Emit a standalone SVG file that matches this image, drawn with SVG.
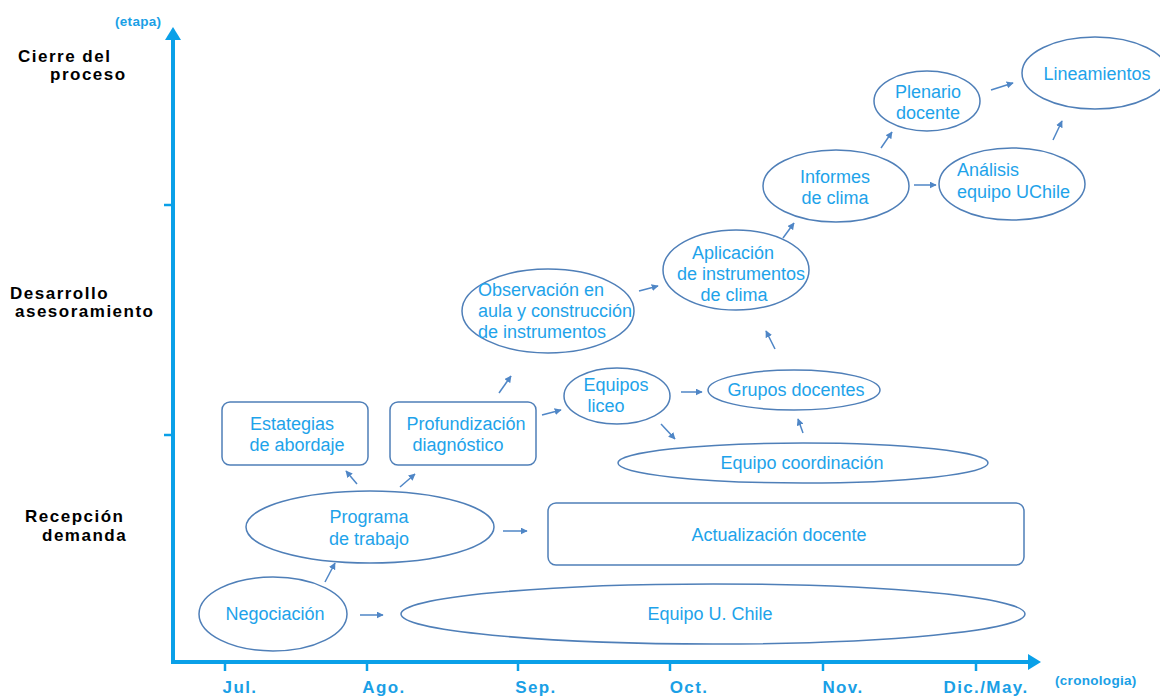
<svg xmlns="http://www.w3.org/2000/svg" width="1160" height="696" viewBox="0 0 1160 696">
<defs>
<style>
.n{fill:#fff;stroke:#4f7fb8;stroke-width:1.5}
.t{font-family:"Liberation Sans",Arial,sans-serif;font-size:18px;fill:#1ea3ea;text-anchor:middle}
.ts{font-family:"Liberation Sans",Arial,sans-serif;font-size:18px;fill:#1ea3ea}
.lab{font-family:"Liberation Sans",Arial,sans-serif;font-size:17px;font-weight:bold;fill:#000;letter-spacing:1.5px}
.mon{font-family:"Liberation Sans",Arial,sans-serif;font-size:17px;font-weight:bold;fill:#1aa0e6;text-anchor:middle;letter-spacing:1.4px}
.ax{font-family:"Liberation Sans",Arial,sans-serif;font-size:13.5px;font-weight:bold;fill:#1aa0e6;letter-spacing:0.3px}
.axis{stroke:#0aa0e8;stroke-width:4;fill:none}
.tick{stroke:#0aa0e8;stroke-width:2.5}
.c{stroke:#4f86c6;stroke-width:1.5;fill:none;marker-end:url(#ah)}
</style>
<marker id="ah" viewBox="0 0 10 10" refX="9" refY="5" markerWidth="7" markerHeight="7" markerUnits="userSpaceOnUse" orient="auto"><path d="M0,0 L10,5 L0,10 z" fill="#4f86c6"/></marker>
</defs>

<g id="axes">
<line class="axis" x1="173" y1="38" x2="173" y2="662"/>
<line class="axis" x1="171" y1="662" x2="1030" y2="662"/>
<path d="M165,40 L173,27 L181,40 z" fill="#0aa0e8"/>
<path d="M1028,654 L1041,662 L1028,670 z" fill="#0aa0e8"/>
<line class="tick" x1="164" y1="205" x2="173" y2="205"/>
<line class="tick" x1="164" y1="435" x2="173" y2="435"/>
<line class="tick" x1="225" y1="662" x2="225" y2="671"/>
<line class="tick" x1="367" y1="662" x2="367" y2="671"/>
<line class="tick" x1="518" y1="662" x2="518" y2="671"/>
<line class="tick" x1="670" y1="662" x2="670" y2="671"/>
<line class="tick" x1="823" y1="662" x2="823" y2="671"/>
<line class="tick" x1="976" y1="662" x2="976" y2="671"/>
<text class="ax" x="115" y="26">(etapa)</text>
<text class="ax" x="1055" y="685">(cronologia)</text>
<text class="mon" x="240" y="693">Jul.</text>
<text class="mon" x="384" y="693">Ago.</text>
<text class="mon" x="536" y="693">Sep.</text>
<text class="mon" x="689" y="693">Oct.</text>
<text class="mon" x="843" y="693">Nov.</text>
<text class="mon" x="986" y="693">Dic./May.</text>
<text class="lab" x="18" y="62">Cierre del</text>
<text class="lab" x="50" y="80">proceso</text>
<text class="lab" x="10" y="299">Desarrollo</text>
<text class="lab" x="15" y="317">asesoramiento</text>
<text class="lab" x="25" y="522">Recepción</text>
<text class="lab" x="42" y="541">demanda</text>
</g>

<g id="negociacion"><ellipse class="n" cx="273" cy="614" rx="74" ry="37"/><text class="t" x="275" y="620">Negociación</text></g>
<g id="equipo-uchile"><ellipse class="n" cx="713" cy="614" rx="312" ry="30"/><text class="t" x="710" y="620">Equipo U. Chile</text></g>
<g id="programa"><ellipse class="n" cx="370" cy="527" rx="124" ry="36"/><text class="t" x="369" y="523">Programa</text><text class="t" x="369" y="545">de trabajo</text></g>
<g id="actualizacion"><rect class="n" x="548" y="503" width="476" height="62" rx="8"/><text class="t" x="779" y="541">Actualización docente</text></g>
<g id="estrategias"><rect class="n" x="222" y="402" width="146" height="63" rx="8"/><text class="t" x="292" y="430">Estategias</text><text class="t" x="297" y="451">de abordaje</text></g>
<g id="profundizacion"><rect class="n" x="390" y="402" width="146" height="63" rx="8"/><text class="t" x="466" y="430">Profundización</text><text class="t" x="458" y="451">diagnóstico</text></g>
<g id="equipo-coordinacion"><ellipse class="n" cx="803" cy="463" rx="185" ry="20"/><text class="t" x="802" y="469">Equipo coordinación</text></g>
<g id="equipos-liceo"><ellipse class="n" cx="617" cy="396" rx="53" ry="28"/><text class="t" x="616" y="391">Equipos</text><text class="t" x="606" y="412">liceo</text></g>
<g id="grupos-docentes"><ellipse class="n" cx="794" cy="390" rx="86" ry="20"/><text class="t" x="796" y="396">Grupos docentes</text></g>
<g id="observacion"><ellipse class="n" cx="548" cy="311" rx="86" ry="42"/><text class="ts" x="478" y="296">Observación en</text><text class="ts" x="478" y="317">aula y construcción</text><text class="ts" x="478" y="338">de instrumentos</text></g>
<g id="aplicacion"><ellipse class="n" cx="736" cy="270" rx="73" ry="40"/><text class="t" x="733" y="259">Aplicación</text><text class="t" x="741" y="280">de instrumentos</text><text class="t" x="734" y="301">de clima</text></g>
<g id="informes"><ellipse class="n" cx="836" cy="186" rx="73" ry="36"/><text class="t" x="835" y="183">Informes</text><text class="t" x="835" y="204">de clima</text></g>
<g id="analisis"><ellipse class="n" cx="1012" cy="184" rx="73" ry="36"/><text class="ts" x="957" y="176">Análisis</text><text class="ts" x="957" y="198">equipo UChile</text></g>
<g id="plenario"><ellipse class="n" cx="927" cy="101" rx="53" ry="30"/><text class="t" x="928" y="98">Plenario</text><text class="t" x="928" y="119">docente</text></g>
<g id="lineamientos"><ellipse class="n" cx="1095" cy="73" rx="73" ry="36"/><text class="t" x="1097" y="80">Lineamientos</text></g>

<g id="connectors">
<line class="c" x1="325" y1="582" x2="335" y2="563"/>
<line class="c" x1="360" y1="615" x2="383" y2="615"/>
<line class="c" x1="357" y1="484" x2="346" y2="471"/>
<line class="c" x1="400" y1="487" x2="415" y2="474"/>
<line class="c" x1="503" y1="531" x2="527" y2="531"/>
<line class="c" x1="542" y1="415" x2="561" y2="410"/>
<line class="c" x1="499" y1="393" x2="511" y2="376"/>
<line class="c" x1="639" y1="291" x2="658" y2="286"/>
<line class="c" x1="681" y1="392" x2="702" y2="392"/>
<line class="c" x1="661" y1="424" x2="675" y2="439"/>
<line class="c" x1="803" y1="433" x2="798" y2="419"/>
<line class="c" x1="775" y1="349" x2="766" y2="331"/>
<line class="c" x1="783" y1="238" x2="794" y2="223"/>
<line class="c" x1="914" y1="185" x2="936" y2="185"/>
<line class="c" x1="881" y1="148" x2="892" y2="132"/>
<line class="c" x1="991" y1="90" x2="1013" y2="83"/>
<line class="c" x1="1053" y1="140" x2="1062" y2="121"/>
</g>
</svg>
